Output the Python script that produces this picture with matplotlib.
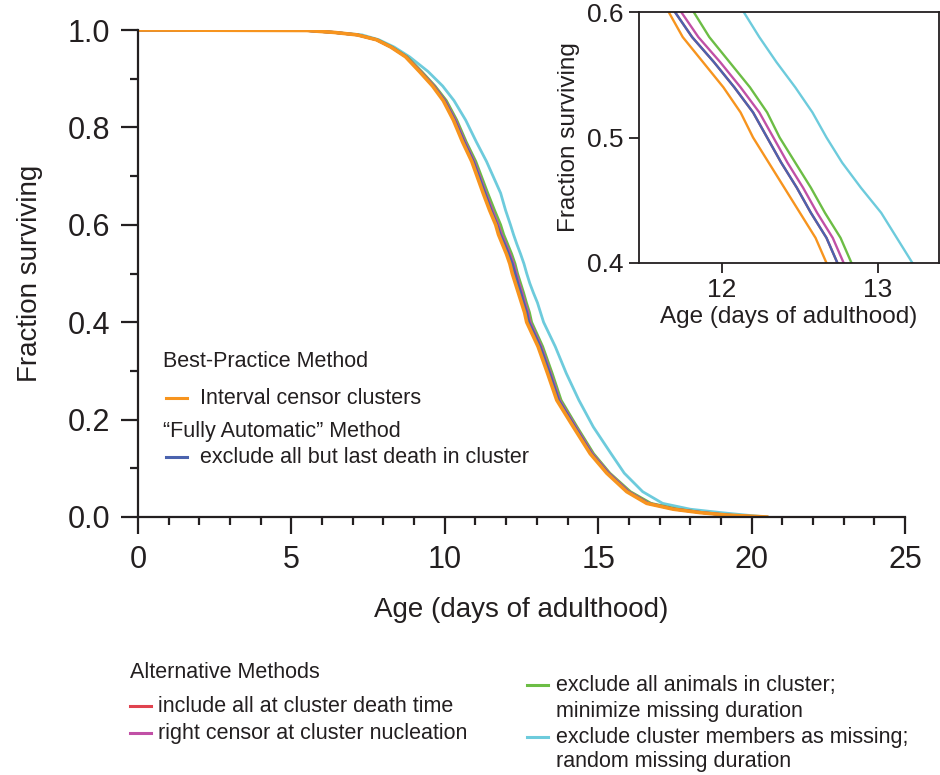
import matplotlib
matplotlib.use("Agg")
import matplotlib.pyplot as plt
from matplotlib.lines import Line2D

plt.rcParams["font.family"] = ["Liberation Sans", "DejaVu Sans"]

INK = "#231F20"
ORANGE = "#F7941E"; BLUE = "#4B63AE"; RED = "#E0434F"
MAGENTA = "#C150A6"; GREEN = "#6CBD45"; CYAN = "#6DCBDC"

# survival levels shared by every curve; ages per curve
surv = [1.000, 0.999, 0.995, 0.990, 0.980, 0.965, 0.945, 0.915, 0.885, 0.855,
        0.815, 0.770, 0.730, 0.665, 0.630, 0.600, 0.580, 0.560, 0.540, 0.520,
        0.500, 0.480, 0.460, 0.440, 0.420, 0.400, 0.350, 0.295, 0.240, 0.185,
        0.130, 0.090, 0.052, 0.028, 0.016, 0.009, 0.004, 0.000]

age_interval = [0.0, 5.5, 6.4, 7.14, 7.77, 8.24, 8.72, 9.17, 9.60, 9.95,
                10.28, 10.58, 10.88, 11.25, 11.46, 11.66, 11.75, 11.88, 12.01, 12.12,
                12.20, 12.30, 12.40, 12.50, 12.60, 12.67, 13.04, 13.35, 13.65, 14.19,
                14.74, 15.28, 15.93, 16.58, 17.45, 18.32, 19.19, 20.49]
age_lastdeath = [0.0, 5.5, 6.4, 7.15, 7.78, 8.25, 8.74, 9.19, 9.63, 9.99,
                 10.32, 10.63, 10.93, 11.31, 11.51, 11.70, 11.81, 11.95, 12.08, 12.20,
                 12.29, 12.38, 12.48, 12.57, 12.67, 12.74, 13.11, 13.42, 13.71, 14.24,
                 14.78, 15.32, 15.97, 16.62, 17.50, 18.40, 19.20, 20.30]
age_includeall = [0.0, 5.5, 6.4, 7.15, 7.78, 8.25, 8.74, 9.19, 9.63, 9.99,
                  10.32, 10.63, 10.93, 11.31, 11.51, 11.70, 11.81, 11.95, 12.08, 12.20,
                  12.29, 12.38, 12.48, 12.57, 12.67, 12.74, 13.11, 13.42, 13.71, 14.24,
                  14.78, 15.32, 15.97, 16.62, 17.50, 18.40, 19.20, 20.30]
age_rightcens = [0.0, 5.5, 6.4, 7.15, 7.78, 8.26, 8.75, 9.21, 9.65, 10.01,
                 10.35, 10.66, 10.96, 11.34, 11.55, 11.74, 11.85, 11.99, 12.12, 12.24,
                 12.33, 12.42, 12.52, 12.61, 12.71, 12.78, 13.14, 13.45, 13.74, 14.27,
                 14.81, 15.35, 16.00, 16.65, 17.50, 18.40, 19.20, 20.30]
age_excludeall = [0.0, 5.5, 6.4, 7.16, 7.80, 8.28, 8.77, 9.24, 9.68, 10.05,
                  10.39, 10.70, 11.01, 11.40, 11.62, 11.82, 11.92, 12.05, 12.18, 12.29,
                  12.37, 12.47, 12.57, 12.66, 12.76, 12.83, 13.19, 13.50, 13.79, 14.31,
                  14.85, 15.38, 16.05, 16.72, 17.60, 18.40, 19.20, 20.30]
age_missing = [0.0, 5.5, 6.4, 7.30, 7.85, 8.35, 8.85, 9.45, 9.93, 10.30,
               10.68, 11.03, 11.36, 11.82, 11.98, 12.14, 12.24, 12.35, 12.47, 12.58,
               12.67, 12.77, 12.89, 13.02, 13.12, 13.22, 13.60, 13.96, 14.37, 14.84,
               15.42, 15.85, 16.45, 17.10, 18.00, 19.00, 19.80, 20.50]

# drawing order: bottom first
curves = [(age_includeall, RED), (age_missing, CYAN), (age_excludeall, GREEN),
          (age_rightcens, MAGENTA), (age_lastdeath, BLUE), (age_interval, ORANGE)]

W, H = 940, 775
fig = plt.figure(figsize=(W / 100, H / 100), dpi=100)


def fx(px): return px / W
def fy(py): return 1 - py / H


def style_axes(ax, major_len, minor_len, lw):
    for s in ax.spines.values():
        s.set_linewidth(lw); s.set_color(INK)
    ax.tick_params(which="major", direction="out", length=major_len, width=lw, color=INK)
    ax.tick_params(which="minor", direction="out", length=minor_len, width=lw, color=INK)


# main panel
ax = fig.add_axes([fx(138), fy(517), fx(905) - fx(138), fy(30) - fy(517)])
for ages, col in curves:
    ax.plot(ages, surv, color=col, lw=2.6 if col == ORANGE else 2.0, solid_joinstyle="round")
ax.set_xlim(0, 25); ax.set_ylim(0, 1.0)
ax.set_xticks([0, 5, 10, 15, 20, 25]); ax.set_xticks(range(26), minor=True)
ax.set_yticks([0, 0.2, 0.4, 0.6, 0.8, 1.0]); ax.set_yticks([0.1, 0.3, 0.5, 0.7, 0.9], minor=True)
ax.set_yticklabels(["0.0", "0.2", "0.4", "0.6", "0.8", "1.0"])
ax.spines[["top", "right"]].set_visible(False)
style_axes(ax, 12, 5.5, 1.6)
ax.tick_params(labelsize=22, labelcolor=INK, pad=8)
ax.set_xlabel("Age (days of adulthood)", fontsize=20, color=INK, labelpad=16)
ax.set_ylabel("Fraction surviving", fontsize=20, color=INK, labelpad=18)

# inset zoom on the median
ins = fig.add_axes([fx(639), fy(263), fx(939) - fx(639), fy(12) - fy(263)])
for ages, col in curves:
    ins.plot(ages, surv, color=col, lw=1.7)
ins.set_xlim(11.47, 13.39); ins.set_ylim(0.4, 0.6)
ins.set_xticks([12, 13]); ins.set_yticks([0.4, 0.5, 0.6])
ins.set_yticklabels(["0.4", "0.5", "0.6"])
style_axes(ins, 7, 4, 1.3)
ins.tick_params(labelsize=19, labelcolor=INK, pad=4)
ins.set_xlabel("Age (days of adulthood)", fontsize=17.5, color=INK, labelpad=3)
ins.set_ylabel("Fraction surviving", fontsize=17.5, color=INK, labelpad=5)

# hand-placed legend entries
FS = 15.5


def key(x0, y, col):
    fig.add_artist(Line2D([fx(x0), fx(x0 + 21)], [fy(y), fy(y)], transform=fig.transFigure,
                          color=col, lw=2.2))


fig.text(fx(163), fy(362), "Best-Practice Method", fontsize=FS, color=INK, va="center")
key(166, 398, ORANGE)
fig.text(fx(200), fy(398), "Interval censor clusters", fontsize=FS, color=INK, va="center")
fig.text(fx(163), fy(432), "\u201cFully Automatic\u201d Method", fontsize=FS, color=INK, va="center")
key(166, 457, BLUE)
fig.text(fx(200), fy(457), "exclude all but last death in cluster", fontsize=FS, color=INK, va="center")

fig.text(fx(130), fy(673), "Alternative Methods", fontsize=FS, color=INK, va="center")
key(130, 706, RED)
fig.text(fx(158), fy(706), "include all at cluster death time", fontsize=FS, color=INK, va="center")
key(130, 733, MAGENTA)
fig.text(fx(158), fy(733), "right censor at cluster nucleation", fontsize=FS, color=INK, va="center")
key(527, 685, GREEN)
fig.text(fx(556), fy(685), "exclude all animals in cluster;", fontsize=FS, color=INK, va="center")
fig.text(fx(556), fy(711), "minimize missing duration", fontsize=FS, color=INK, va="center")
key(527, 737, CYAN)
fig.text(fx(556), fy(737), "exclude cluster members as missing;", fontsize=FS, color=INK, va="center")
fig.text(fx(556), fy(762), "random missing duration", fontsize=FS, color=INK, va="center")

fig.savefig("out.png", dpi=100, facecolor="white")
